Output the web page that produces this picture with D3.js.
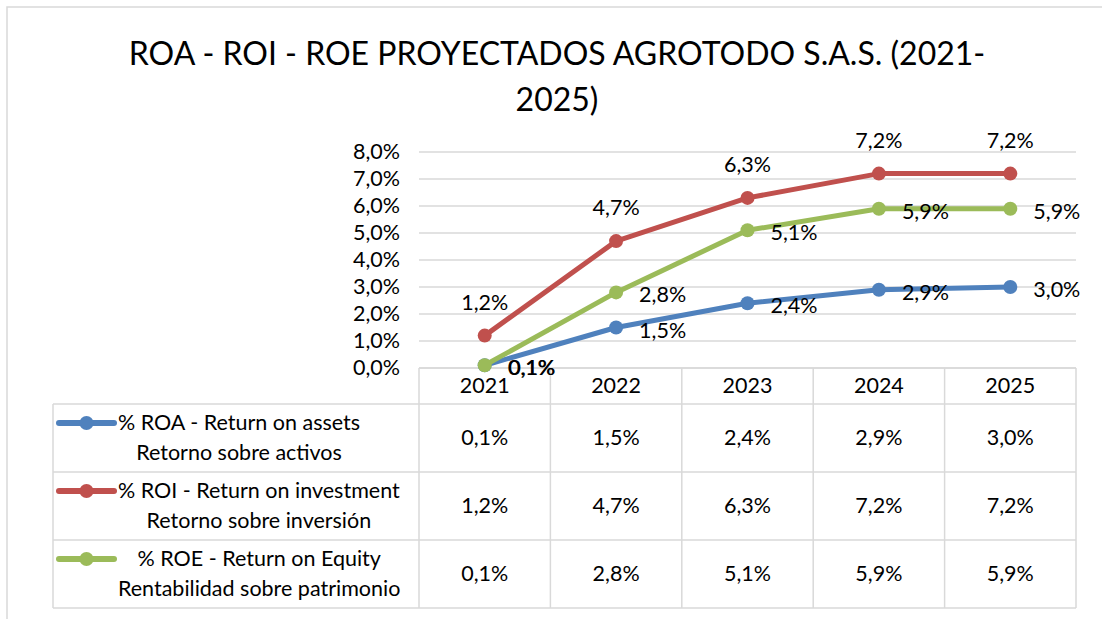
<!DOCTYPE html>
<html>
<head>
<meta charset="utf-8">
<script src="https://cdnjs.cloudflare.com/ajax/libs/d3/7.8.5/d3.min.js"></script>
<style>
  body { margin: 0; background: #fff; }
  text { font-family: Lato, "Open Sans", sans-serif; fill: #000; }
</style>
</head>
<body>
<script>
// data
var years = ["2021", "2022", "2023", "2024", "2025"];
var roa = [0.1, 1.5, 2.4, 2.9, 3.0];
var roi = [1.2, 4.7, 6.3, 7.2, 7.2];
var roe = [0.1, 2.8, 5.1, 5.9, 5.9];
var yTicks = [0, 1, 2, 3, 4, 5, 6, 7, 8];
var seriesNames = [
  ["% ROA - Return on assets", "Retorno sobre activos"],
  ["% ROI - Return on investment", "Retorno sobre inversión"],
  ["% ROE - Return on Equity", "Rentabilidad sobre patrimonio"]
];
var colors = ["#4F81BD", "#C0504D", "#9BBB59"];

var W = 1102, H = 619;
var fs = "21.5px";
var fmt = function (v) { return v.toFixed(1).replace(".", ",") + "%"; };

var svg = d3.select("body").append("svg")
  .attr("width", W).attr("height", H);

// outer chart frame
svg.append("rect")
  .attr("x", 7).attr("y", 7)
  .attr("width", W + 10).attr("height", H + 10)
  .attr("fill", "none").attr("stroke", "#D9D9D9").attr("stroke-width", 1.5);

// title
svg.append("text").attr("x", 557).attr("y", 65)
  .attr("text-anchor", "middle").style("font-size", "32px")
  .text("ROA - ROI - ROE PROYECTADOS AGROTODO S.A.S. (2021-");
svg.append("text").attr("x", 557).attr("y", 111)
  .attr("text-anchor", "middle").style("font-size", "32px")
  .text("2025)");

var plotL = 419, plotR = 1076, plotT = 152, plotB = 368;
var x = d3.scaleBand().domain(years).range([plotL, plotR]);
var y = d3.scaleLinear().domain([0, 8]).range([plotB, plotT]);

// gridlines
svg.append("g").selectAll("line").data(yTicks).enter().append("line")
  .attr("x1", plotL).attr("x2", plotR)
  .attr("y1", function (d) { return y(d); })
  .attr("y2", function (d) { return y(d); })
  .attr("stroke", "#D9D9D9").attr("stroke-width", 1.5);

// y axis labels
var yAxis = d3.axisLeft(y).tickValues(yTicks)
  .tickFormat(fmt).tickSize(0).tickPadding(19);
var ya = svg.append("g").attr("transform", "translate(" + plotL + ",0)").call(yAxis);
ya.select(".domain").remove();
ya.selectAll("text").style("font-size", fs)
  .style("font-family", "Lato, 'Open Sans', sans-serif").attr("fill", "#000");

// data table
var rowTop = 404, rowH = 68, tableLeft = 53;
var grid = svg.append("g").attr("stroke", "#D9D9D9").attr("stroke-width", 1.5);
grid.append("line").attr("x1", plotL).attr("x2", plotR).attr("y1", plotB).attr("y2", plotB);
[0, 1, 2, 3].forEach(function (i) {
  grid.append("line").attr("x1", tableLeft).attr("x2", plotR)
    .attr("y1", rowTop + i * rowH).attr("y2", rowTop + i * rowH);
});
var colEdges = years.map(function (d) { return x(d); }).concat([plotR]);
colEdges.forEach(function (cx) {
  grid.append("line").attr("x1", cx).attr("x2", cx)
    .attr("y1", plotB).attr("y2", rowTop + 3 * rowH);
});
grid.append("line").attr("x1", tableLeft).attr("x2", tableLeft)
  .attr("y1", rowTop).attr("y2", rowTop + 3 * rowH);

// header years
svg.append("g").selectAll("text").data(years).enter().append("text")
  .attr("x", function (d) { return x(d) + x.bandwidth() / 2; })
  .attr("y", 393)
  .attr("text-anchor", "middle").style("font-size", fs)
  .text(function (d) { return d; });

var allSeries = [roa, roi, roe];
allSeries.forEach(function (vals, si) {
  var cy = rowTop + si * rowH + rowH / 2;
  // values
  svg.append("g").selectAll("text").data(vals).enter().append("text")
    .attr("x", function (d, i) { return x(years[i]) + x.bandwidth() / 2; })
    .attr("y", cy + 7)
    .attr("text-anchor", "middle").style("font-size", fs)
    .text(fmt);
  // legend key
  var ly = cy - 15;
  svg.append("line").attr("x1", 59).attr("x2", 114).attr("y1", ly).attr("y2", ly)
    .attr("stroke", colors[si]).attr("stroke-width", 6).attr("stroke-linecap", "round");
  svg.append("circle").attr("cx", 86.5).attr("cy", ly).attr("r", 7).attr("fill", colors[si]);
  // legend text, centred as a block
  var t1 = svg.append("text").attr("y", cy - 8).attr("text-anchor", "middle")
    .style("font-size", fs).text(seriesNames[si][0]);
  var t2 = svg.append("text").attr("y", cy + 22).attr("text-anchor", "middle")
    .style("font-size", fs).text(seriesNames[si][1]);
  var wmax = Math.max(t1.node().getComputedTextLength(), t2.node().getComputedTextLength());
  t1.attr("x", 118 + wmax / 2);
  t2.attr("x", 118 + wmax / 2);
});

// lines and markers
var cxOf = function (i) { return x(years[i]) + x.bandwidth() / 2; };
var line = d3.line()
  .x(function (d, i) { return cxOf(i); })
  .y(function (d) { return y(d); });

allSeries.forEach(function (vals, si) {
  var g = svg.append("g");
  g.append("path").datum(vals).attr("d", line)
    .attr("fill", "none").attr("stroke", colors[si]).attr("stroke-width", 5)
    .attr("stroke-linejoin", "round").attr("stroke-linecap", "round");
  g.selectAll("circle").data(vals).enter().append("circle")
    .attr("cx", function (d, i) { return cxOf(i); })
    .attr("cy", function (d) { return y(d); })
    .attr("r", 7).attr("fill", colors[si]);
});

// data labels
// ROI above points
svg.append("g").selectAll("text").data(roi).enter().append("text")
  .attr("x", function (d, i) { return cxOf(i); })
  .attr("y", function (d) { return y(d) - 26; })
  .attr("text-anchor", "middle").style("font-size", fs)
  .text(fmt);
// ROA and ROE to the right of points
[roa, roe].forEach(function (vals, k) {
  svg.append("g").selectAll("text").data(vals).enter().append("text")
    .attr("x", function (d, i) { return cxOf(i) + 23 + (i === 0 ? k * 0.8 : 0); })
    .attr("y", function (d) { return y(d) + 10; })
    .style("font-size", fs)
    .text(fmt);
});
</script>
</body>
</html>
